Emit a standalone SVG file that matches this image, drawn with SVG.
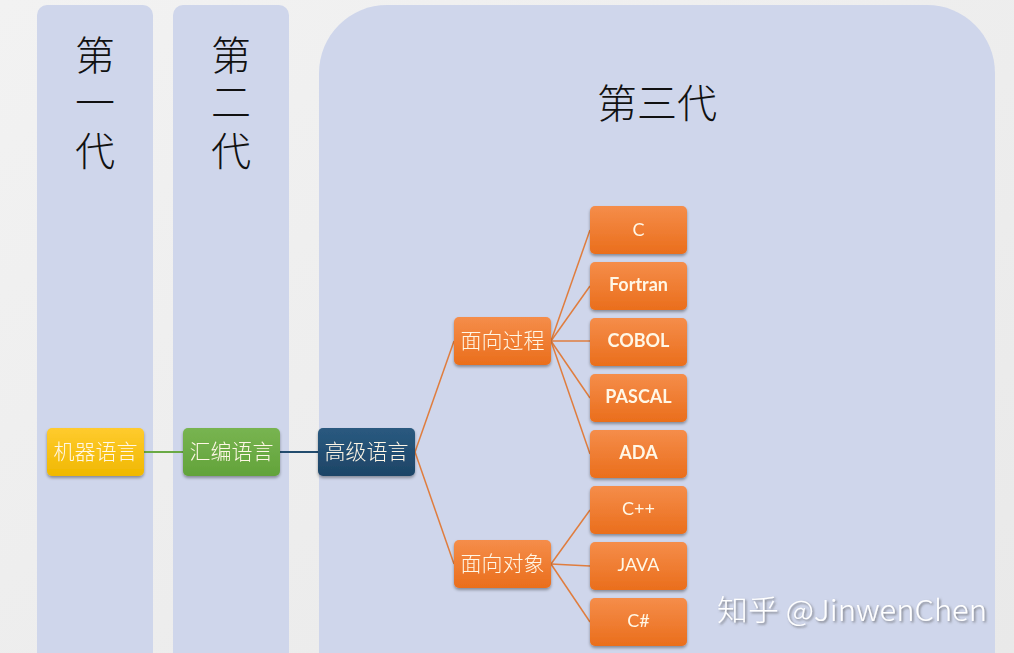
<svg xmlns="http://www.w3.org/2000/svg" width="1014" height="653" viewBox="0 0 1014 653">
<defs>
<linearGradient id="bg" x1="0" y1="0" x2="1" y2="1">
<stop offset="0" stop-color="#f2f2f2"/><stop offset="1" stop-color="#e9e9e9"/>
</linearGradient>
<linearGradient id="gOr" x1="0" y1="0" x2="0" y2="1">
<stop offset="0" stop-color="#f58d4a"/><stop offset="1" stop-color="#ea6e1c"/>
</linearGradient>
<linearGradient id="gYe" x1="0" y1="0" x2="0" y2="1">
<stop offset="0" stop-color="#ffcb2e"/><stop offset="1" stop-color="#f0b800"/>
</linearGradient>
<linearGradient id="gGr" x1="0" y1="0" x2="0" y2="1">
<stop offset="0" stop-color="#78b451"/><stop offset="1" stop-color="#62a33a"/>
</linearGradient>
<linearGradient id="gBl" x1="0" y1="0" x2="0" y2="1">
<stop offset="0" stop-color="#2a5a80"/><stop offset="1" stop-color="#1d4466"/>
</linearGradient>
<filter id="sh" x="-20%" y="-20%" width="140%" height="150%">
<feDropShadow dx="0" dy="2" stdDeviation="1.5" flood-color="#000" flood-opacity="0.35"/>
</filter>
<filter id="tsh" x="-5%" y="-20%" width="110%" height="150%">
<feDropShadow dx="1.5" dy="1.5" stdDeviation="0.8" flood-color="#555" flood-opacity="0.7"/>
</filter>
</defs>
<style>
.col{fill:#cfd6eb}
.title{font-family:"Liberation Serif","Noto Sans CJK SC",serif;font-size:40px;font-weight:300;fill:#111}
.cn{font-family:"Liberation Serif","Noto Sans CJK SC",serif;font-size:21px;font-weight:300;fill:#fff7e6}
.en{font-family:Lato,"Liberation Sans",sans-serif;font-size:18px;fill:#fff7e6}
.enb{font-family:Lato,"Liberation Sans",sans-serif;font-size:18px;font-weight:bold;fill:#fff7e6}
.or{fill:url(#gOr)}
.ln{stroke:#e07d3e;stroke-width:1.5;fill:none}
</style>
<rect width="1014" height="653" fill="url(#bg)"/>
<g id="gen1">
<rect class="col" x="37" y="5" width="116" height="680" rx="10"/>
<text class="title" x="95" y="70" text-anchor="middle">第</text>
<text class="title" x="95" y="117" text-anchor="middle">一</text>
<text class="title" x="95" y="166" text-anchor="middle">代</text>
</g>
<g id="gen2">
<rect class="col" x="173" y="5" width="116" height="680" rx="10"/>
<text class="title" x="231" y="70" text-anchor="middle">第</text>
<text class="title" x="231" y="117" text-anchor="middle">二</text>
<text class="title" x="231" y="166" text-anchor="middle">代</text>
</g>
<g id="gen3">
<rect class="col" x="319" y="5" width="676" height="720" rx="68"/>
<text class="title" x="657" y="118" text-anchor="middle" font-size="41">第三代</text>
</g>
<g id="connectors">
<line x1="144" y1="452" x2="183" y2="452" stroke="#6aaa45" stroke-width="2"/>
<line x1="280" y1="452" x2="318" y2="452" stroke="#234c6e" stroke-width="2"/>
<line class="ln" x1="415" y1="452" x2="454" y2="341"/>
<line class="ln" x1="415" y1="452" x2="454" y2="564"/>
<line class="ln" x1="551" y1="341" x2="590" y2="230"/>
<line class="ln" x1="551" y1="341" x2="590" y2="286"/>
<line class="ln" x1="551" y1="341" x2="590" y2="341"/>
<line class="ln" x1="551" y1="341" x2="590" y2="398"/>
<line class="ln" x1="551" y1="341" x2="590" y2="454"/>
<line class="ln" x1="551" y1="564" x2="590" y2="510"/>
<line class="ln" x1="551" y1="564" x2="590" y2="566"/>
<line class="ln" x1="551" y1="564" x2="590" y2="622"/>
</g>
<g id="n-machine" filter="url(#sh)">
<rect x="47" y="428" width="97" height="48" rx="5" fill="url(#gYe)"/>
<text class="cn" x="95.5" y="459" text-anchor="middle">机器语言</text>
</g>
<g id="n-asm" filter="url(#sh)">
<rect x="183" y="428" width="97" height="48" rx="5" fill="url(#gGr)"/>
<text class="cn" x="231.5" y="459" text-anchor="middle">汇编语言</text>
</g>
<g id="n-high" filter="url(#sh)">
<rect x="318" y="428" width="97" height="48" rx="5" fill="url(#gBl)"/>
<text class="cn" x="366.5" y="459" text-anchor="middle">高级语言</text>
</g>
<g id="n-proc" filter="url(#sh)">
<rect class="or" x="454" y="317" width="97" height="48" rx="5"/>
<text class="cn" x="502.5" y="348" text-anchor="middle">面向过程</text>
</g>
<g id="n-oop" filter="url(#sh)">
<rect class="or" x="454" y="540" width="97" height="48" rx="5"/>
<text class="cn" x="502.5" y="571" text-anchor="middle">面向对象</text>
</g>
<g id="n-c" filter="url(#sh)">
<rect class="or" x="590" y="206" width="97" height="48" rx="5"/>
<text class="en" x="638.5" y="236" text-anchor="middle">C</text>
</g>
<g id="n-fortran" filter="url(#sh)">
<rect class="or" x="590" y="262" width="97" height="48" rx="5"/>
<text class="enb" x="638.5" y="291" text-anchor="middle">Fortran</text>
</g>
<g id="n-cobol" filter="url(#sh)">
<rect class="or" x="590" y="318" width="97" height="48" rx="5"/>
<text class="enb" x="638.5" y="347" text-anchor="middle">COBOL</text>
</g>
<g id="n-pascal" filter="url(#sh)">
<rect class="or" x="590" y="374" width="97" height="48" rx="5"/>
<text class="enb" x="638.5" y="403" text-anchor="middle">PASCAL</text>
</g>
<g id="n-ada" filter="url(#sh)">
<rect class="or" x="590" y="430" width="97" height="48" rx="5"/>
<text class="enb" x="638.5" y="459" text-anchor="middle">ADA</text>
</g>
<g id="n-cpp" filter="url(#sh)">
<rect class="or" x="590" y="486" width="97" height="48" rx="5"/>
<text class="en" x="638.5" y="515" text-anchor="middle">C++</text>
</g>
<g id="n-java" filter="url(#sh)">
<rect class="or" x="590" y="542" width="97" height="48" rx="5"/>
<text class="en" x="638.5" y="571" text-anchor="middle">JAVA</text>
</g>
<g id="n-csharp" filter="url(#sh)">
<rect class="or" x="590" y="598" width="97" height="48" rx="5"/>
<text class="en" x="638.5" y="627" text-anchor="middle">C#</text>
</g>
<text x="717" y="621" font-family="'Noto Sans CJK SC','Liberation Sans',sans-serif" font-size="29" font-weight="300" fill="#ffffff" filter="url(#tsh)" textLength="270" lengthAdjust="spacingAndGlyphs">知乎 @JinwenChen</text>
</svg>
